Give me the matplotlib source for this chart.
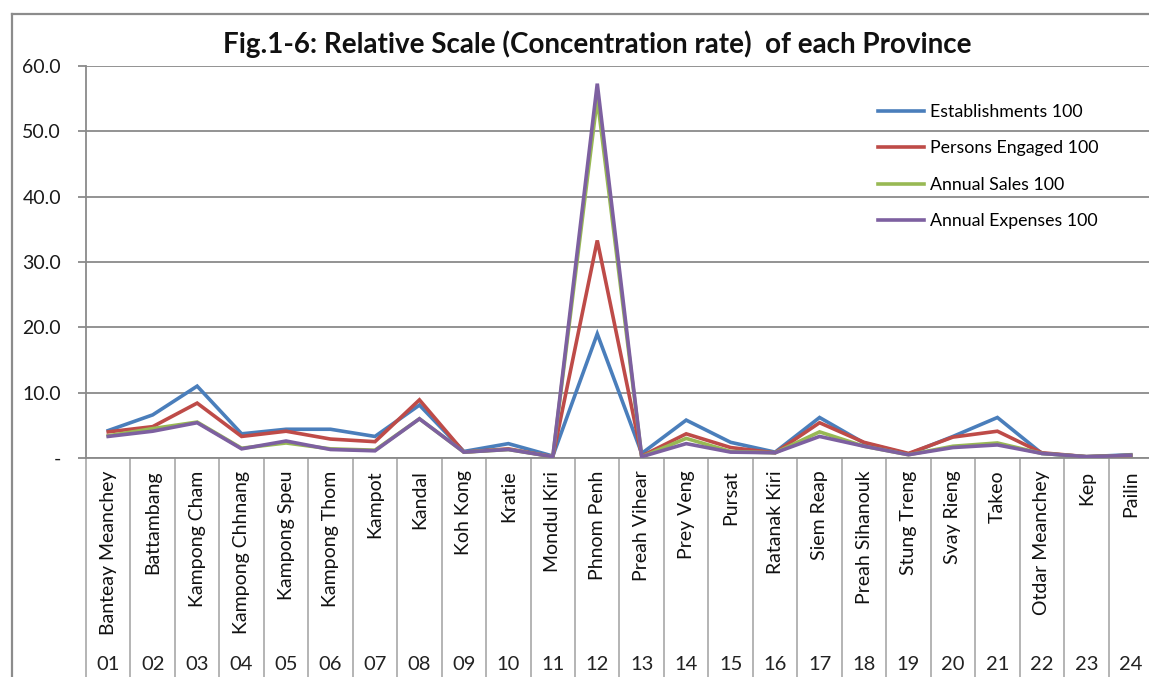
import matplotlib
matplotlib.use("Agg")
import matplotlib.pyplot as plt
import matplotlib.lines as mlines
import matplotlib.transforms as mtrans
import numpy as np

provinces = ["Banteay Meanchey", "Battambang", "Kampong Cham", "Kampong Chhnang",
             "Kampong Speu", "Kampong Thom", "Kampot", "Kandal", "Koh Kong", "Kratie",
             "Mondul Kiri", "Phnom Penh", "Preah Vihear", "Prey Veng", "Pursat",
             "Ratanak Kiri", "Siem Reap", "Preah Sihanouk", "Stung Treng", "Svay Rieng",
             "Takeo", "Otdar Meanchey", "Kep", "Pailin"]
codes = ["01", "02", "03", "04", "05", "06", "07", "08", "09", "10", "11", "12",
         "13", "14", "15", "16", "17", "18", "19", "20", "21", "22", "23", "24"]

establishments = [4.2, 6.6, 11.0, 3.7, 4.4, 4.4, 3.3, 8.1, 1.0, 2.2, 0.3, 19.0,
                  0.7, 5.8, 2.4, 0.9, 6.2, 2.3, 0.6, 3.3, 6.2, 0.7, 0.2, 0.5]
persons = [4.0, 4.8, 8.4, 3.3, 4.1, 2.9, 2.5, 8.9, 0.9, 1.4, 0.2, 33.3,
           0.3, 3.7, 1.6, 0.8, 5.4, 2.4, 0.7, 3.2, 4.1, 0.8, 0.2, 0.4]
sales = [3.4, 4.5, 5.5, 1.5, 2.3, 1.4, 1.2, 6.0, 0.9, 1.3, 0.2, 55.0,
         0.2, 3.0, 1.0, 0.8, 4.0, 1.8, 0.5, 1.8, 2.3, 0.7, 0.2, 0.4]
expenses = [3.3, 4.1, 5.4, 1.4, 2.6, 1.3, 1.1, 6.0, 0.9, 1.3, 0.2, 57.3,
            0.2, 2.2, 0.9, 0.8, 3.3, 1.8, 0.5, 1.6, 2.0, 0.7, 0.2, 0.4]

series_names = ["Establishments 100", "Persons Engaged 100", "Annual Sales 100", "Annual Expenses 100"]
yticks = [0, 10, 20, 30, 40, 50, 60]
ytick_labels = ["-", "10.0", "20.0", "30.0", "40.0", "50.0", "60.0"]

plt.rcParams['font.family'] = ['Lato', 'DejaVu Sans']

W, H = 1149, 677
fig = plt.figure(figsize=(W / 100, H / 100), dpi=100)
fig.patch.set_facecolor("white")

# outer chart border (left and top edges visible; rest cropped)
fig.add_artist(mlines.Line2D([12 / W, 12 / W], [0, 1 - 14 / H], transform=fig.transFigure,
                             color="#8c8c8c", linewidth=1.6))
fig.add_artist(mlines.Line2D([12 / W, 1], [1 - 14 / H, 1 - 14 / H], transform=fig.transFigure,
                             color="#8c8c8c", linewidth=1.6))

left, right, bottom, top = 86, 1153, 458, 66
ax = fig.add_axes([left / W, 1 - bottom / H, (right - left) / W, (bottom - top) / H])

x = np.arange(len(provinces))
colors = ["#4A7EBB", "#BE4B48", "#98B954", "#7D60A0"]
for vals, c, name in zip([establishments, persons, sales, expenses], colors, series_names):
    ax.plot(x, vals, color=c, linewidth=2.6, label=name, solid_joinstyle="miter", zorder=3)

ax.set_xlim(-0.5, len(provinces) - 0.5)
ax.set_ylim(0, 60)
ax.set_yticks(yticks, ytick_labels)
ax.yaxis.grid(True, color="#8a8a8a", linewidth=1.3)
ax.set_axisbelow(True)

for s in ["top", "right"]:
    ax.spines[s].set_visible(False)
ax.spines["left"].set_color("#8a8a8a")
ax.spines["left"].set_linewidth(1.3)
ax.spines["bottom"].set_color("#8a8a8a")
ax.spines["bottom"].set_linewidth(1.3)

ax.tick_params(axis="y", length=6, width=1.3, color="#8a8a8a", labelsize=14,
               labelcolor="#1a1a1a", pad=12)

# category names as tick labels
ax.set_xticks(x, provinces, rotation=90, fontsize=14, color="#111111")
ax.tick_params(axis="x", which="major", length=0, pad=9)
for lbl in ax.get_xticklabels():
    lbl.set_verticalalignment("top")

# category separators
ax.set_xticks(np.arange(-0.5, len(provinces), 1.0), minor=True)
ax.tick_params(axis="x", which="minor", length=165, width=1.1, color="#a0a0a0")

# code labels
trans = mtrans.blended_transform_factory(ax.transData, fig.transFigure)
for xi, code in zip(x, codes):
    ax.text(xi, 1 - 664 / H, code, transform=trans, ha="center", va="center",
            fontsize=14.5, color="#222222")

ax.legend(loc="upper left", bbox_to_anchor=(862 / W, 1 - 88 / H),
          bbox_transform=fig.transFigure, frameon=False, fontsize=12.8,
          handlelength=2.6, handletextpad=0.3, labelspacing=1.15)

fig.text(597 / W, 1 - 44 / H, "Fig.1-6: Relative Scale (Concentration rate)  of each Province",
         ha="center", va="center", fontsize=20, fontweight="bold", color="#111111")

fig.savefig("out.png", dpi=100)
